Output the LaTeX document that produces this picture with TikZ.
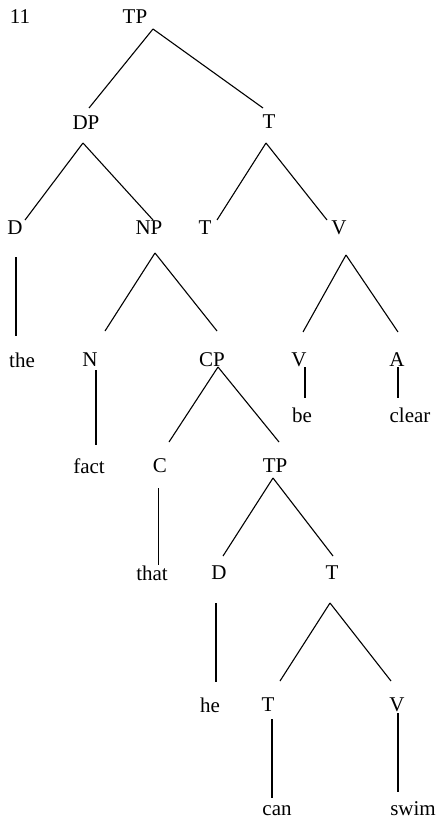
\documentclass[tikz,border=0pt]{standalone}
\usepackage{fontspec}
\setmainfont{Liberation Serif}
\usetikzlibrary{calc}
\begin{document}
\begin{tikzpicture}[x=1pt,y=-1pt,
  lbl/.style={inner sep=0pt,font=\fontsize{21}{25}\selectfont,text height=14pt,text depth=0pt},
  edge/.style={line width=1.1pt,line cap=butt}]
\useasboundingbox (0,0) rectangle (437,821);
% labels
\node[lbl] (num) at (20,17) {11};
\node[lbl] (tp) at (135,17) {TP};
\node[lbl] (dp) at (86,123) {DP};
\node[lbl] (t2) at (269,122) {T};
\node[lbl] (d) at (15,227) {D};
\node[lbl] (np) at (149,227) {NP};
\node[lbl] (t3) at (205,227) {T};
\node[lbl] (v) at (339,227) {V};
\node[lbl] (the) at (22,360) {the};
\node[lbl] (n) at (90,359) {N};
\node[lbl] (cp) at (212,359) {CP};
\node[lbl] (v2) at (299,359) {V};
\node[lbl] (a) at (397,359) {A};
\node[lbl] (be) at (302,415) {be};
\node[lbl] (clear) at (410,415) {clear};
\node[lbl] (fact) at (89,466) {fact};
\node[lbl] (c) at (160,465) {C};
\node[lbl] (tp2) at (275,465) {TP};
\node[lbl] (that) at (152,573) {that};
\node[lbl] (d2) at (219,572) {D};
\node[lbl] (t4) at (332,572) {T};
\node[lbl] (he) at (210,705) {he};
\node[lbl] (t5) at (268,704) {T};
\node[lbl] (v3) at (397,704) {V};
\node[lbl] (can) at (277,808) {can};
\node[lbl] (swim) at (413,808) {swim};
% connectors
\draw[edge] ($(tp)+(18,12)$) -- ($(dp)+(3,-15)$);
\draw[edge] ($(tp)+(18,12)$) -- ($(t2)+(-6,-14)$);
\draw[edge] ($(dp)+(-3,20)$) -- ($(d)+(10,-7)$);
\draw[edge] ($(dp)+(-3,20)$) -- ($(np)+(4,-7)$);
\draw[edge] ($(t2)+(-3,21)$) -- ($(t3)+(12,-7)$);
\draw[edge] ($(t2)+(-3,21)$) -- ($(v)+(-12,-7)$);
\draw[edge] ($(d)+(1,30)$) -- ($(the)+(-6,-24)$);
\draw[edge] ($(np)+(6,26)$) -- ($(n)+(15,-28)$);
\draw[edge] ($(np)+(6,26)$) -- ($(cp)+(5,-28)$);
\draw[edge] ($(v)+(7,28)$) -- ($(v2)+(4,-27)$);
\draw[edge] ($(v)+(7,28)$) -- ($(a)+(1,-27)$);
\draw[edge] ($(n)+(6,11)$) -- ($(fact)+(7,-21)$);
\draw[edge] ($(cp)+(6,8)$) -- ($(c)+(9,-23)$);
\draw[edge] ($(cp)+(6,8)$) -- ($(tp2)+(4,-23)$);
\draw[edge] ($(v2)+(6,8)$) -- ($(be)+(3,-17)$);
\draw[edge] ($(a)+(1,8)$) -- ($(clear)+(-12,-17)$);
\draw[edge] ($(c)+(-1.5,23)$) -- ($(that)+(6.5,-8)$);
\draw[edge] ($(tp2)+(-2,13)$) -- ($(d2)+(4,-16)$);
\draw[edge] ($(tp2)+(-2,13)$) -- ($(t4)+(1,-16)$);
\draw[edge] ($(d2)+(-3,31)$) -- ($(he)+(6,-23)$);
\draw[edge] ($(t4)+(-2,31)$) -- ($(t5)+(12,-23)$);
\draw[edge] ($(t4)+(-2,31)$) -- ($(v3)+(-6,-23)$);
\draw[edge] ($(t5)+(4,15)$) -- ($(can)+(-5,-10)$);
\draw[edge] ($(v3)+(1,9)$) -- ($(swim)+(-15,-16)$);
\end{tikzpicture}
\end{document}
